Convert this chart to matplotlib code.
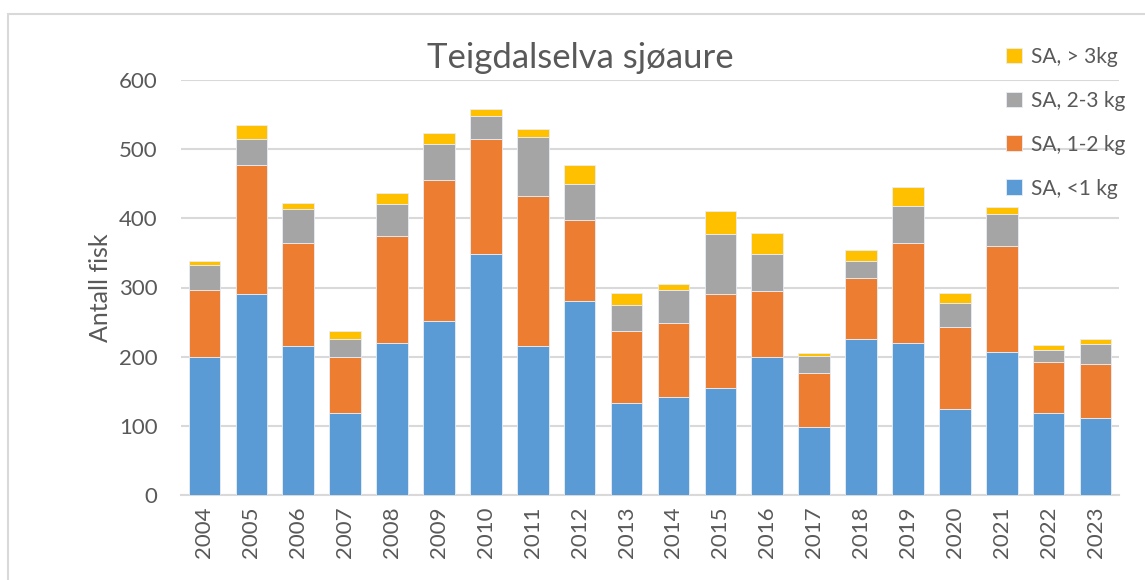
import matplotlib
matplotlib.use("Agg")
import matplotlib.pyplot as plt
from matplotlib.patches import Rectangle
import numpy as np

# Data
years = [str(y) for y in range(2004, 2024)]
under_1kg = [200, 290, 215, 118, 220, 252, 348, 215, 280, 133,
             142, 154, 200, 99, 226, 220, 125, 207, 119, 111]
kg_1_2 = [97, 187, 150, 81, 155, 204, 166, 218, 117, 104,
          107, 137, 95, 78, 88, 145, 118, 153, 73, 79]
kg_2_3 = [35, 38, 48, 27, 46, 52, 34, 85, 53, 37,
          48, 86, 53, 24, 25, 53, 35, 46, 18, 28]
over_3kg = [6, 20, 9, 11, 16, 15, 10, 11, 27, 18,
            8, 34, 31, 4, 15, 28, 14, 11, 7, 7]

series = [
    ("SA, <1 kg", under_1kg, "#5B9BD5"),
    ("SA, 1-2 kg", kg_1_2, "#ED7D31"),
    ("SA, 2-3 kg", kg_2_3, "#A5A5A5"),
    ("SA, > 3kg", over_3kg, "#FFC000"),
]


def main():
    plt.rcParams["font.family"] = ["Lato", "DejaVu Sans"]
    text_color = "#595959"

    fig = plt.figure(figsize=(11.45, 5.8), dpi=100)
    ax = fig.add_axes([181 / 1145, 1 - 495 / 580, 938 / 1145, 415 / 580])

    # light outer frame, like the Excel chart area
    fig.patches.append(Rectangle((8 / 1145, -0.1), 1.2, 1.1 - 14 / 580,
                                 transform=fig.transFigure, fill=False,
                                 edgecolor="#d9d9d9", linewidth=1.5))

    x = np.arange(len(years))
    bottom = np.zeros(len(years))
    handles = []
    for label, values, color in series:
        b = ax.bar(x, values, width=0.675, bottom=bottom, color=color,
                   edgecolor="#e8eef6", linewidth=0.6, label=label, zorder=3)
        handles.append(b)
        bottom += np.array(values)

    ax.set_xlim(-0.5, len(years) - 0.5)
    ax.set_ylim(0, 600)
    ax.set_yticks(range(0, 601, 100))
    ax.set_xticks(x)
    ax.set_xticklabels(years, rotation=90)
    ax.yaxis.grid(True, color="#d9d9d9", linewidth=1.5, zorder=0)
    ax.set_axisbelow(True)
    for s in ["top", "right", "left"]:
        ax.spines[s].set_visible(False)
    ax.spines["bottom"].set_color("#d9d9d9")
    ax.spines["bottom"].set_linewidth(1.5)
    ax.tick_params(axis="both", length=0, labelsize=16, colors=text_color)
    ax.tick_params(axis="y", pad=17)
    ax.tick_params(axis="x", pad=8)

    ax.set_ylabel("Antall fisk", fontsize=18, color=text_color, labelpad=5)
    fig.text(0.507, 1 - 58 / 580, "Teigdalselva sjøaure", fontsize=25,
             color=text_color, ha="center", va="center")

    leg = fig.legend(handles[::-1], [s[0] for s in series][::-1],
                     loc="upper left", bbox_to_anchor=(987 / 1145, 1 - 28 / 580),
                     frameon=False, fontsize=15, labelspacing=1.15,
                     handlelength=0.8, handleheight=0.8, handletextpad=0.4)
    for t in leg.get_texts():
        t.set_color(text_color)

    fig.savefig("out.png", dpi=100)


if __name__ == "__main__":
    main()
